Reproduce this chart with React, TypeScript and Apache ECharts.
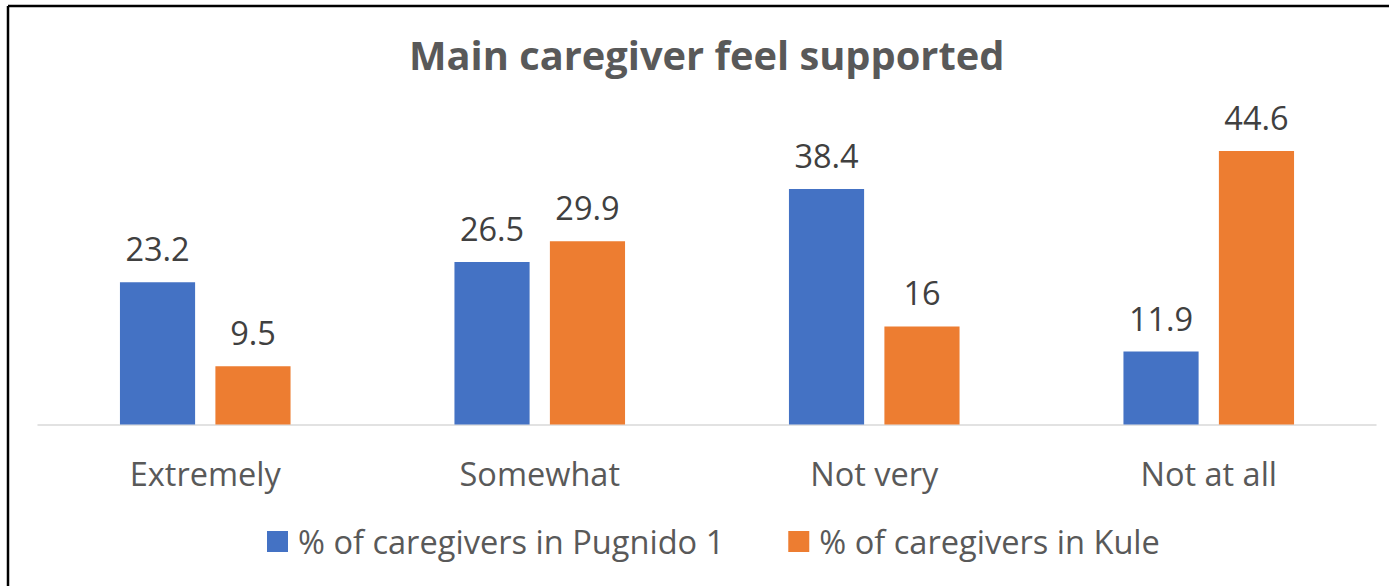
import React, { useEffect, useRef } from "react";
import * as echarts from "echarts";

const categories = ["Extremely", "Somewhat", "Not very", "Not at all"];
const seriesNames = ["% of caregivers in Pugnido 1", "% of caregivers in Kule"];
const pugnido = [23.2, 26.5, 38.4, 11.9];
const kule = [9.5, 29.9, 16, 44.6];
const titleText = "Main caregiver feel supported";

const FONT = "'Open Sans', sans-serif";

export default function App() {
  const ref = useRef<HTMLDivElement>(null);
  useEffect(() => {
    if (!ref.current) return;
    const chart = echarts.init(ref.current, undefined, { renderer: "svg" });
    chart.setOption({
      animation: false,
      backgroundColor: "#ffffff",
      title: {
        text: titleText,
        left: 404,
        top: 29,
        textStyle: { fontFamily: FONT, fontSize: 39.8, fontWeight: "bold", color: "#595959" },
      },
      legend: {
        data: seriesNames,
        bottom: 23,
        left: 262,
        icon: "rect",
        itemWidth: 21,
        itemHeight: 21,
        itemGap: 64,
        textStyle: { fontFamily: FONT, fontSize: 32.6, color: "#595959", padding: [0, 0, 0, 5] },
      },
      graphic: [
        { type: "line", shape: { x1: 8, y1: 6, x2: 1389, y2: 6 }, style: { stroke: "#000", lineWidth: 2.5 } },
        { type: "line", shape: { x1: 8, y1: 6, x2: 8, y2: 586 }, style: { stroke: "#000", lineWidth: 2.5 } },
      ],
      grid: { left: 38, right: 13, top: 118, bottom: 161.5 },
      xAxis: {
        type: "category",
        data: categories,
        axisLine: { lineStyle: { color: "#D9D9D9", width: 1.5 } },
        axisTick: { show: false },
        axisLabel: { fontFamily: FONT, fontSize: 32.5, color: "#595959", margin: 32 },
      },
      yAxis: { type: "value", min: 0, max: 50, show: false, splitLine: { show: false } },
      series: [
        {
          name: seriesNames[0],
          type: "bar",
          data: pugnido,
          itemStyle: { color: "#4472C4" },
          barGap: "27%",
          barCategoryGap: "49%",
          label: { show: true, position: "top", distance: 17, fontFamily: FONT, fontSize: 32.5, color: "#404040" },
        },
        {
          name: seriesNames[1],
          type: "bar",
          data: kule,
          itemStyle: { color: "#ED7D31" },
          barGap: "27%",
          barCategoryGap: "49%",
          label: { show: true, position: "top", distance: 17, fontFamily: FONT, fontSize: 32.5, color: "#404040" },
        },
      ],
    });
    return () => chart.dispose();
  }, []);
  return (
    <div
      ref={ref}
      style={{ position: "absolute", left: 0, top: 0, width: 1389, height: 586 }}
    />
  );
}
